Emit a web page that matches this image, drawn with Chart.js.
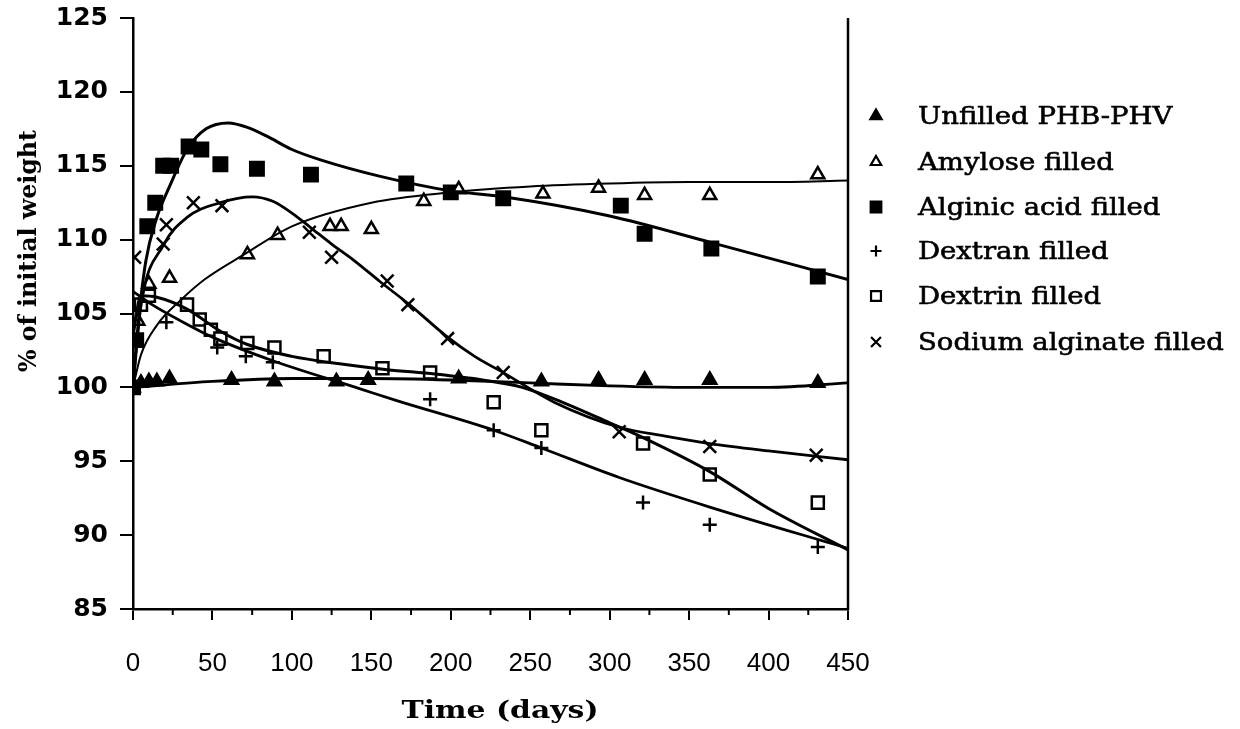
<!DOCTYPE html>
<html>
<head>
<meta charset="utf-8">
<script src="https://cdn.jsdelivr.net/npm/chart.js@4.4.1/dist/chart.umd.min.js"></script>
<style>
  html, body { margin: 0; padding: 0; background: #fff; }
  #wrap { width: 1240px; height: 729px; }
</style>
</head>
<body>
<div id="wrap"><canvas id="c" width="1240" height="729"></canvas></div>
<script>
// Weight change (% of initial weight) of PHB-PHV blends over time (days)

// Measured points
const phbDays = [0, 5, 10, 15, 23, 62, 89, 128, 148, 205, 257, 293, 322, 363, 431];
const phbVals = [100.0, 100.3, 100.4, 100.4, 100.6, 100.5, 100.4, 100.4, 100.5, 100.6, 100.4, 100.5, 100.5, 100.5, 100.3];

const amyDays = [0, 3, 10, 23, 72, 91, 124, 131, 150, 183, 205, 258, 293, 322, 363, 431];
const amyVals = [100.0, 104.5, 107.0, 107.4, 109.0, 110.3, 110.9, 110.9, 110.7, 112.6, 113.4, 113.1, 113.5, 113.0, 113.0, 114.4];

const algDays = [0, 2, 9, 14, 19, 24, 35, 43, 55, 78, 112, 172, 200, 233, 307, 322, 364, 431];
const algVals = [100.0, 103.2, 110.9, 112.5, 115.0, 115.0, 116.3, 116.1, 115.1, 114.8, 114.4, 113.8, 113.2, 112.8, 112.3, 110.4, 109.4, 107.5];

const dxnDays = [0, 21, 53, 71, 88, 187, 227, 257, 321, 363, 431];
const dxnVals = [100.0, 104.4, 102.7, 102.1, 101.7, 99.2, 97.1, 95.9, 92.2, 90.7, 89.2];

const dtnDays = [0, 5, 10, 34, 42, 49, 55, 72, 89, 120, 157, 187, 227, 257, 321, 363, 431];
const dtnVals = [100.0, 105.6, 106.2, 105.6, 104.6, 103.9, 103.3, 103.0, 102.7, 102.1, 101.3, 101.0, 99.0, 97.1, 96.2, 94.1, 92.2];

const naDays = [1, 19, 21, 38, 56, 111, 125, 160, 173, 198, 233, 306, 363, 430];
const naVals = [108.8, 109.7, 111.0, 112.5, 112.3, 110.5, 108.8, 107.2, 105.6, 103.3, 101.0, 97.0, 96.0, 95.4];

// Fitted trend curves
const phbFitDays = [0, 50, 100, 150, 200, 250, 300, 350, 400, 450];
const phbFitVals = [100.0, 100.4, 100.6, 100.6, 100.5, 100.3, 100.1, 100.0, 100.0, 100.3];

const amyFitDays = [0, 5, 15, 30, 45, 70, 100, 150, 200, 250, 300, 350, 400, 450];
const amyFitVals = [100.0, 102.2, 104.2, 105.9, 107.3, 109.0, 110.9, 112.5, 113.2, 113.6, 113.8, 113.9, 113.9, 114.0];

const algFitDays = [0, 3, 8, 15, 23, 34, 46, 60, 72, 86, 100, 118, 155, 200, 233, 300, 364, 450];
const algFitVals = [100.0, 104.0, 108.5, 111.5, 113.6, 116.1, 117.5, 117.9, 117.6, 116.9, 116.1, 115.4, 114.3, 113.3, 112.9, 111.6, 109.8, 107.3];

const dxnFitDays = [0, 12, 30, 50, 88, 143, 166, 227, 257, 306, 363, 450];
const dxnFitVals = [106.5, 105.6, 104.5, 103.4, 101.8, 99.9, 99.1, 97.1, 95.9, 93.9, 91.9, 89.1];

const dtnFitDays = [0, 5, 15, 34, 55, 72, 100, 130, 160, 190, 220, 245, 270, 300, 321, 363, 400, 450];
const dtnFitVals = [103.5, 106.2, 106.1, 105.3, 103.8, 102.9, 102.1, 101.6, 101.2, 100.9, 100.5, 100.0, 99.0, 97.6, 96.6, 94.3, 91.8, 89.0];

const naFitDays = [0, 5, 19, 34, 55, 75, 88, 100, 112, 125, 139, 155, 174, 198, 215, 233, 265, 306, 335, 363, 400, 450];
const naFitVals = [100.0, 105.5, 109.6, 111.5, 112.5, 112.9, 112.6, 111.8, 110.8, 109.7, 108.6, 107.2, 105.6, 103.4, 102.1, 101.0, 99.0, 97.3, 96.7, 96.2, 95.7, 95.1];

// Axis ticks
const xTicks = [0, 50, 100, 150, 200, 250, 300, 350, 400, 450];
const yTicks = [85, 90, 95, 100, 105, 110, 115, 120, 125];

const series = [
  { label: 'Unfilled PHB-PHV', days: phbDays, vals: phbVals, fitDays: phbFitDays, fitVals: phbFitVals,
    style: 'triangle', filled: true, r: 7.5, lr: 6.5, fitWidth: 2.8 },
  { label: 'Amylose filled', days: amyDays, vals: amyVals, fitDays: amyFitDays, fitVals: amyFitVals,
    style: 'triangle', filled: false, r: 7.5, lr: 6, fitWidth: 2.0 },
  { label: 'Alginic acid filled', days: algDays, vals: algVals, fitDays: algFitDays, fitVals: algFitVals,
    style: 'rect', filled: true, r: 9.5, lr: 7.5, fitWidth: 3.0 },
  { label: 'Dextran filled', days: dxnDays, vals: dxnVals, fitDays: dxnFitDays, fitVals: dxnFitVals,
    style: 'cross', filled: false, r: 7, lr: 5.5, fitWidth: 2.8 },
  { label: 'Dextrin filled', days: dtnDays, vals: dtnVals, fitDays: dtnFitDays, fitVals: dtnFitVals,
    style: 'rect', filled: false, r: 8.5, lr: 7, fitWidth: 3.0 },
  { label: 'Sodium alginate filled', days: naDays, vals: naVals, fitDays: naFitDays, fitVals: naFitVals,
    style: 'crossRot', filled: false, r: 9, lr: 7, fitWidth: 2.8 }
];

const toXY = (xs, ys) => xs.map((x, i) => ({ x: x, y: ys[i] }));

const datasets = [];
series.forEach(s => {
  datasets.push({
    label: s.label + ' fit',
    data: toXY(s.fitDays, s.fitVals),
    showLine: true,
    borderColor: '#000',
    borderWidth: s.fitWidth,
    pointRadius: 0,
    cubicInterpolationMode: 'monotone',
    fill: false,
    isFit: true
  });
});
series.forEach(s => {
  datasets.push({
    label: s.label,
    data: toXY(s.days, s.vals),
    showLine: false,
    pointStyle: s.style,
    pointRadius: s.r,
    pointBorderWidth: 2.5,
    pointBorderColor: '#000',
    pointBackgroundColor: s.filled ? '#000' : '#fff',
    legendRadius: s.lr
  });
});

// Frame, minor ticks, axis titles and legend
const decor = {
  id: 'decor',
  afterDatasetsDraw(chart) {
    const ctx = chart.ctx;
    const a = chart.chartArea;
    const xs = chart.scales.x;
    ctx.save();
    ctx.strokeStyle = '#000';
    ctx.lineWidth = 2.5;
    // right border
    ctx.beginPath();
    ctx.moveTo(a.right, a.top);
    ctx.lineTo(a.right, a.bottom + 1);
    ctx.stroke();
    // minor x ticks
    ctx.lineWidth = 2;
    for (let v = 25; v < 450; v += 50) {
      const px = xs.getPixelForValue(v);
      ctx.beginPath();
      ctx.moveTo(px, a.bottom);
      ctx.lineTo(px, a.bottom + 6);
      ctx.stroke();
    }

    // axis titles
    ctx.fillStyle = '#000';
    ctx.textAlign = 'center';
    ctx.textBaseline = 'middle';
    ctx.font = 'bold 25px "DejaVu Serif"';
    let w = ctx.measureText('Time (days)').width;
    ctx.save();
    ctx.translate(500, 711);
    ctx.scale(197 / w, 1);
    ctx.fillText('Time (days)', 0, 0);
    ctx.restore();

    ctx.font = 'bold 25px "DejaVu Serif"';
    w = ctx.measureText('% of initial weight').width;
    ctx.save();
    ctx.translate(29, 251);
    ctx.rotate(-Math.PI / 2);
    ctx.scale(242 / w, 1);
    ctx.fillText('% of initial weight', 0, 0);
    ctx.restore();

    // legend
    const rows = [116, 162, 207, 251, 296, 342];
    ctx.textAlign = 'left';
    ctx.font = '25px "DejaVu Serif"';
    chart.data.datasets.filter(d => !d.isFit).forEach((d, i) => {
      const y = rows[i];
      ctx.fillStyle = d.pointBackgroundColor;
      ctx.strokeStyle = '#000';
      ctx.lineWidth = 2.2;
      Chart.helpers.drawPoint(ctx, { pointStyle: d.pointStyle, radius: d.legendRadius, rotation: 0, borderWidth: 2.2 }, 876, y);
      ctx.fillStyle = '#000';
      ctx.lineWidth = 0.6;
      ctx.save();
      ctx.translate(918, y + 1);
      ctx.scale(1.1, 1);
      ctx.fillText(d.label, 0, 0);
      ctx.strokeText(d.label, 0, 0);
      ctx.restore();
    });
    ctx.restore();
  }
};

new Chart(document.getElementById('c'), {
  type: 'scatter',
  data: { datasets: datasets },
  options: {
    responsive: false,
    animation: false,
    devicePixelRatio: 1,
    layout: { padding: { left: 0, right: 392, top: 18, bottom: 0 } },
    plugins: { legend: { display: false }, tooltip: { enabled: false } },
    scales: {
      x: {
        type: 'linear',
        min: 0, max: 450,
        afterFit(scale) { scale.height = 120; scale.paddingLeft = 0; scale.paddingRight = 0; },
        afterBuildTicks(scale) { scale.ticks = xTicks.map(v => ({ value: v })); },
        border: { display: true, color: '#000', width: 2.5 },
        grid: { display: true, drawOnChartArea: false, drawTicks: true, tickLength: 11, color: '#000', lineWidth: 2 },
        ticks: { color: '#000', padding: 28, maxRotation: 0, autoSkip: false,
                 font: { family: '"Liberation Sans"', size: 26 } }
      },
      y: {
        type: 'linear',
        min: 85, max: 125,
        afterFit(scale) { scale.width = 133; scale.paddingTop = 0; scale.paddingBottom = 0; },
        afterBuildTicks(scale) { scale.ticks = yTicks.map(v => ({ value: v })); },
        border: { display: true, color: '#000', width: 2.5 },
        grid: { display: true, drawOnChartArea: false, drawTicks: true, tickLength: 13, color: '#000', lineWidth: 2 },
        ticks: { color: '#000', padding: 12, autoSkip: false,
                 font: { family: '"DejaVu Sans"', size: 25, weight: 'bold' } }
      }
    }
  },
  plugins: [decor]
});
</script>
</body>
</html>
